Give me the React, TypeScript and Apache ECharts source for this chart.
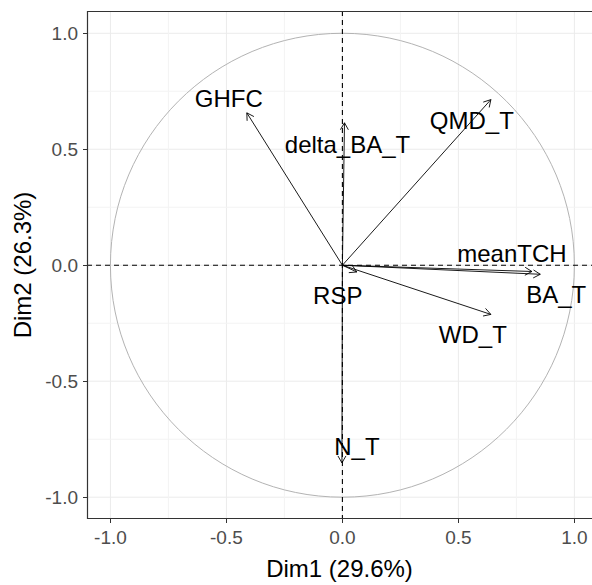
import React, { useEffect, useRef } from 'react';
import * as echarts from 'echarts';

const variables = ['GHFC', 'delta_BA_T', 'QMD_T', 'meanTCH', 'BA_T', 'RSP', 'WD_T', 'N_T'];
const dim1 = [-0.412, 0.009, 0.64, 0.817, 0.853, 0.062, 0.64, -0.002];
const dim2 = [0.657, 0.614, 0.714, -0.027, -0.039, -0.029, -0.212, -0.852];
const tickValues = [-1, -0.5, 0, 0.5, 1];
const minorValues = [-0.75, -0.25, 0.25, 0.75];
const xTitle = 'Dim1 (29.6%)';
const yTitle = 'Dim2 (26.3%)';

// label placement offsets in pixels relative to arrow tips (style, not data)
const labelOffsets: [number, number][] = [
  [-18, -14], [3, 22], [-19, 21], [-20, -18], [16, 20], [-19, 24], [-18, 20], [15, -16],
];

const FONT = "'Liberation Sans', Arial, sans-serif";

export default function App() {
  const ref = useRef<HTMLDivElement>(null);
  useEffect(() => {
    const chart = echarts.init(ref.current!, null, { renderer: 'svg' });

    const gridData: number[][] = [];
    tickValues.forEach((v) => { gridData.push([v, 0, 1]); gridData.push([v, 1, 1]); });
    minorValues.forEach((v) => { gridData.push([v, 0, 0]); gridData.push([v, 1, 0]); });

    const arrowData = variables.map((_, i) => [dim1[i], dim2[i], i]);

    const axisCommon = {
      type: 'value' as const,
      splitLine: { show: false },
      axisLine: { show: false, onZero: false },
      axisTick: { show: true, length: 4, lineStyle: { color: '#333', width: 1 }, customValues: tickValues },
      axisLabel: {
        customValues: tickValues,
        fontSize: 19,
        color: '#4D4D4D',
        fontFamily: FONT,
        formatter: (v: number) => v.toFixed(1),
      },
      nameLocation: 'middle' as const,
      nameTextStyle: { fontSize: 24, color: '#000', fontFamily: FONT },
    };

    chart.setOption({
      animation: false,
      backgroundColor: '#fff',
      grid: {
        left: 87, right: 0, top: 11, bottom: 63.5,
        show: false,
        containLabel: false,
      },
      xAxis: {
        ...axisCommon,
        min: -1.101, max: 1.076,
        axisLabel: { ...axisCommon.axisLabel, margin: 9 },
        name: xTitle, nameGap: 37,
      },
      yAxis: {
        ...axisCommon,
        min: -1.094, max: 1.096,
        axisLabel: { ...axisCommon.axisLabel, margin: 9 },
        name: yTitle, nameGap: 47,
      },
      series: [
        {
          type: 'custom',
          silent: true,
          data: gridData,
          renderItem: (params: any, api: any) => {
            const cs = params.coordSys;
            const v = api.value(0);
            const o = api.value(1);
            const major = api.value(2) === 1;
            const style = { stroke: major ? '#EBEBEB' : '#F3F3F3', lineWidth: 1 };
            if (o === 0) {
              const px = api.coord([v, 0])[0];
              return { type: 'line', shape: { x1: px, y1: cs.y, x2: px, y2: cs.y + cs.height }, style };
            }
            const py = api.coord([0, v])[1];
            return { type: 'line', shape: { x1: cs.x, y1: py, x2: cs.x + cs.width, y2: py }, style };
          },
        },
        {
          type: 'custom',
          silent: true,
          data: [[0, 0]],
          renderItem: (params: any, api: any) => {
            const c = api.coord([0, 0]);
            const s = api.size([1, 1]);
            return {
              type: 'ellipse',
              shape: { cx: c[0], cy: c[1], rx: s[0], ry: s[1] },
              style: { fill: 'none', stroke: '#B3B3B3', lineWidth: 1 },
            };
          },
        },
        {
          type: 'custom',
          silent: true,
          data: [[0, 0]],
          renderItem: (params: any, api: any) => {
            const cs = params.coordSys;
            const c = api.coord([0, 0]);
            const style = { stroke: '#000', lineWidth: 1.1, lineDash: [5, 4] };
            const bstyle = { stroke: '#333', lineWidth: 1.2 };
            const x0 = cs.x + 0.5;
            const y0 = cs.y + 0.5;
            const y1 = cs.y + cs.height - 0.5;
            const x1 = cs.x + cs.width + 10;
            return {
              type: 'group',
              children: [
                { type: 'line', shape: { x1: c[0], y1: cs.y, x2: c[0], y2: cs.y + cs.height }, style },
                { type: 'line', shape: { x1: cs.x, y1: c[1], x2: cs.x + cs.width, y2: c[1] }, style },
                { type: 'polyline', shape: { points: [[x1, y0], [x0, y0], [x0, y1], [x1, y1]] }, style: { ...bstyle, fill: 'none' } },
              ],
            };
          },
        },
        {
          type: 'custom',
          silent: true,
          data: arrowData,
          renderItem: (params: any, api: any) => {
            const o = api.coord([0, 0]);
            const t = api.coord([api.value(0), api.value(1)]);
            const i = api.value(2);
            const ang = Math.atan2(t[1] - o[1], t[0] - o[0]);
            const L = 8;
            const a = Math.PI / 6;
            const h1 = [t[0] - L * Math.cos(ang - a), t[1] - L * Math.sin(ang - a)];
            const h2 = [t[0] - L * Math.cos(ang + a), t[1] - L * Math.sin(ang + a)];
            const style = { stroke: '#000', lineWidth: 0.9 };
            const off = labelOffsets[i];
            return {
              type: 'group',
              children: [
                { type: 'line', shape: { x1: o[0], y1: o[1], x2: t[0], y2: t[1] }, style },
                { type: 'polyline', shape: { points: [h1, t, h2] }, style: { ...style, fill: 'none' } },
                {
                  type: 'text',
                  x: t[0] + off[0],
                  y: t[1] + off[1],
                  style: {
                    text: variables[i],
                    fontSize: 24,
                    fontFamily: FONT,
                    fill: '#000',
                    align: 'center',
                    verticalAlign: 'middle',
                  },
                },
              ],
            };
          },
        },
      ],
    });
    return () => chart.dispose();
  }, []);
  return <div ref={ref} style={{ position: 'fixed', left: 0, top: 0, width: 592, height: 585 }} />;
}
